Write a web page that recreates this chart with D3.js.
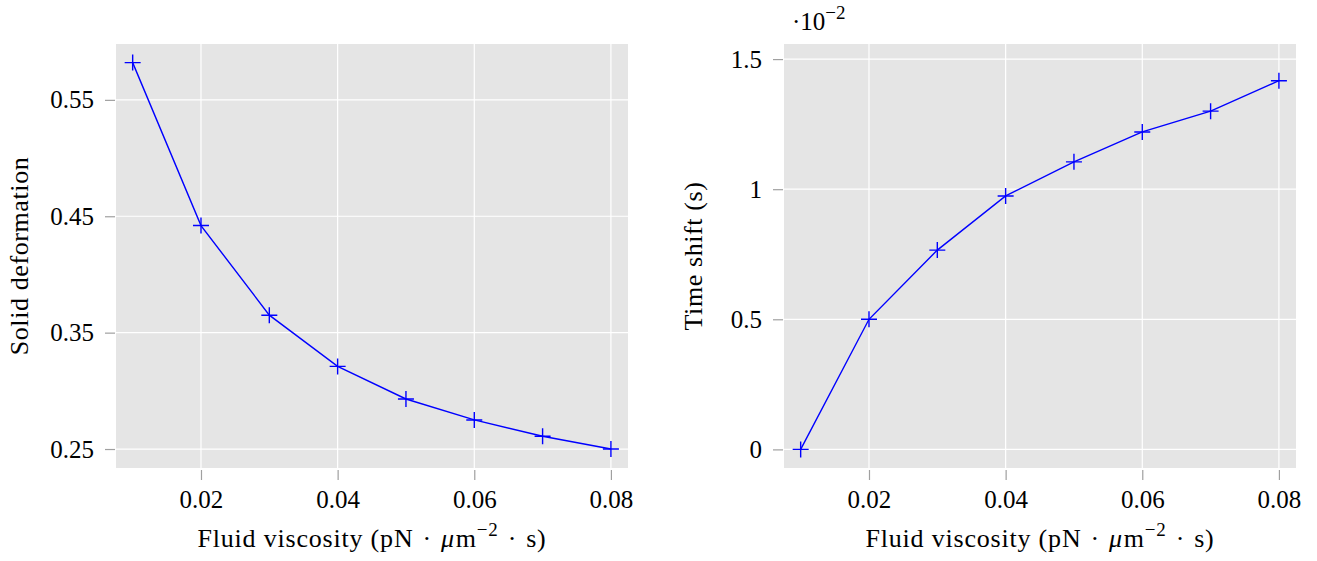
<!DOCTYPE html>
<html><head><meta charset="utf-8">
<script src="https://cdn.jsdelivr.net/npm/d3@7"></script>
<style>
body{margin:0;background:#fff;}
svg text{font-family:"Liberation Serif","Times New Roman",serif;fill:#000;}
</style></head>
<body><svg id="c" width="1317" height="561"></svg>
<script>
const viscosity = [0.01,0.02,0.03,0.04,0.05,0.06,0.07,0.08];
const deformation = [0.582,0.442,0.365,0.321,0.293,0.275,0.261,0.250];
const timeShift = [0.0,0.50,0.766,0.974,1.105,1.22,1.30,1.417];
const xTicks = [0.02,0.04,0.06,0.08];
const yTicksLeft = [0.25,0.35,0.45,0.55];
const yTicksRight = [0,0.5,1,1.5];
const yLabelsRight = ["0","0.5","1","1.5"];

const svg = d3.select("#c");
const FS = 25, TFS = 26;

function panel(opts){
  const g = svg.append("g");
  const x = d3.scaleLinear().domain([0.00756,0.0825]).range([opts.x0,opts.x1]);
  const y = d3.scaleLinear().domain(opts.ydom).range([468,44]);
  g.append("rect").attr("x",opts.x0).attr("y",44).attr("width",opts.x1-opts.x0).attr("height",424).attr("fill","#e5e5e5");
  g.selectAll(".gx").data(xTicks).enter().append("line")
    .attr("x1",d=>x(d)).attr("x2",d=>x(d)).attr("y1",44).attr("y2",468)
    .attr("stroke","#fff").attr("stroke-width",1.2);
  g.selectAll(".gy").data(opts.yticks).enter().append("line")
    .attr("y1",d=>y(d)).attr("y2",d=>y(d)).attr("x1",opts.x0).attr("x2",opts.x1)
    .attr("stroke","#fff").attr("stroke-width",1.2);
  const xa = d3.axisBottom(x).tickValues(xTicks).tickSize(10).tickPadding(10).tickFormat(d3.format(".2f"));
  const xg = g.append("g").attr("transform","translate(0,470)").call(xa);
  const ya = d3.axisLeft(y).tickValues(opts.yticks).tickSize(10).tickPadding(11).tickFormat((d,i)=>opts.ylabels[i]);
  const yg = g.append("g").attr("transform",`translate(${opts.x0-1},0)`).call(ya);
  [xg,yg].forEach(a=>{
    a.select(".domain").remove();
    a.selectAll(".tick line").attr("stroke","#a0a0a0").attr("stroke-width",1.2);
    a.selectAll(".tick text").attr("font-family","Liberation Serif").attr("font-size",FS).attr("fill","#000");
  });
  const line = d3.line().x((d,i)=>x(viscosity[i])).y(d=>y(d));
  g.append("path").datum(opts.vals).attr("d",line).attr("fill","none").attr("stroke","#0000ff").attr("stroke-width",1.4);
  const s = 8;
  g.selectAll(".m").data(opts.vals).enter().append("path")
    .attr("d",(d,i)=>`M${x(viscosity[i])-s},${y(d)}H${x(viscosity[i])+s}M${x(viscosity[i])},${y(d)-s}V${y(d)+s}`)
    .attr("stroke","#0000ff").attr("stroke-width",1.4).attr("fill","none");
  const xt = g.append("text").attr("x",(opts.x0+opts.x1)/2).attr("y",547).attr("text-anchor","middle").attr("font-size",TFS).attr("letter-spacing",0.8);
  xt.append("tspan").text("Fluid viscosity (pN");
  xt.append("tspan").attr("dx",9).text("·");
  xt.append("tspan").attr("dx",9).attr("font-style","italic").text("μ");
  xt.append("tspan").attr("dx",1).text("m");
  xt.append("tspan").attr("dy",-11).attr("font-size",19).text("−2");
  xt.append("tspan").attr("dy",11).attr("dx",9).text("·");
  xt.append("tspan").attr("dx",9).text("s)");
  g.append("text").attr("transform",`translate(${opts.ytx},256) rotate(-90)`).attr("text-anchor","middle").attr("font-size",TFS).attr("letter-spacing",0.6).text(opts.ytitle);
  return {x,y,g};
}

panel({x0:116,x1:628,ydom:[0.2337,0.598],yticks:yTicksLeft,ylabels:yTicksLeft.map(d3.format(".2f")),vals:deformation,ytitle:"Solid deformation",ytx:28});
panel({x0:784,x1:1296,ydom:[-0.0715,1.558],yticks:yTicksRight,ylabels:yLabelsRight,vals:timeShift,ytitle:"Time shift (s)",ytx:702});
const sc = svg.append("text").attr("x",792).attr("y",30).attr("font-size",FS);
sc.append("tspan").text("·10");
sc.append("tspan").attr("dy",-11).attr("font-size",19).text("−2");
</script></body></html>
